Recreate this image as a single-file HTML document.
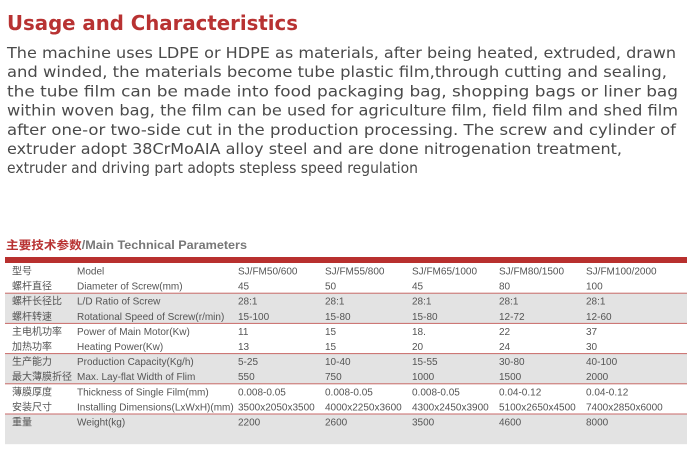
<!DOCTYPE html>
<html><head><meta charset="utf-8"><style>
html,body{margin:0;padding:0;background:#fff;width:688px;height:449px;overflow:hidden}
svg{display:block}
.p{font-family:"DejaVu Sans","Liberation Sans",sans-serif;font-size:15.5px;fill:#4a4a4a}
.t{font-family:"Liberation Sans","Noto Sans CJK SC",sans-serif;font-size:10px;fill:#555}
</style></head><body>
<svg id="s" width="688" height="449">
<text x="7" y="30" style="font-family:'DejaVu Sans','Liberation Sans',sans-serif;font-weight:bold;font-size:20px;fill:#b83232" textLength="291" lengthAdjust="spacingAndGlyphs">Usage and Characteristics</text>
<g id="para"></g>
<text x="6" y="249" textLength="241" lengthAdjust="spacingAndGlyphs" style="font-family:'Liberation Sans','Noto Sans CJK SC',sans-serif;font-weight:bold;font-size:11.5px"><tspan fill="#b83232">主要技术参数</tspan><tspan fill="#777">/Main Technical Parameters</tspan></text>
<rect x="5" y="257" width="682" height="6" fill="#b8302e"/>
<g id="tbl"></g>
</svg>
<script>
const lines=[
["The machine uses LDPE or HDPE as materials, after being heated, extruded, drawn",669],
["and winded, the materials become tube plastic film,through cutting and sealing,",660],
["the tube film can be made into food packaging bag, shopping bags or liner bag",671],
["within woven bag, the film can be used for agriculture film, field film and shed film",671],
["after one-or two-side cut in the production processing. The screw and cylinder of",669],
["extruder adopt 38CrMoAIA alloy steel and are done nitrogenation treatment,",615],
["extruder and driving part adopts stepless speed regulation",411]];
const zh=["型号","螺杆直径","螺杆长径比","螺杆转速","主电机功率","加热功率","生产能力","最大薄膜折径","薄膜厚度","安装尺寸","重量"];
const en=["Model","Diameter of Screw(mm)","L/D Ratio of Screw","Rotational Speed of Screw(r/min)","Power of Main Motor(Kw)","Heating Power(Kw)","Production Capacity(Kg/h)","Max. Lay-flat Width of Flim","Thickness of Single Film(mm)","Installing Dimensions(LxWxH)(mm)","Weight(kg)"];
const c1=["SJ/FM50/600","45","28:1","15-100","11","13","5-25","550","0.008-0.05","3500x2050x3500","2200"];
const c2=["SJ/FM55/800","50","28:1","15-80","15","15","10-40","750","0.008-0.05","4000x2250x3600","2600"];
const c3=["SJ/FM65/1000","45","28:1","15-80","18.","20","15-55","1000","0.008-0.05","4300x2450x3900","3500"];
const c4=["SJ/FM80/1500","80","28:1","12-72","22","24","30-80","1500","0.04-0.12","5100x2650x4500","4600"];
const c5=["SJ/FM100/2000","100","28:1","12-60","37","30","40-100","2000","0.04-0.12","7400x2850x6000","8000"];
const NS="http://www.w3.org/2000/svg";
const para=document.getElementById('para');
lines.forEach((l,i)=>{const t=document.createElementNS(NS,'text');


t.setAttribute('class','p');t.setAttribute('x',7);t.setAttribute('y',58+i*19.2);
t.setAttribute('textLength',l[1]);t.setAttribute('lengthAdjust','spacingAndGlyphs');t.textContent=l[0];para.appendChild(t);});
const tbl=document.getElementById('tbl');
const tblTop=263,rh=15.1;
[false,true,false,true,false,true].forEach((gray,i)=>{
 const y=tblTop+i*2*rh;
 if(gray){const r=document.createElementNS(NS,'rect');
 
 
 r.setAttribute('x',5);r.setAttribute('y',y);r.setAttribute('width',682);r.setAttribute('height',2*rh);r.setAttribute('fill','#e3e3e3');tbl.appendChild(r);}
 if(i>0){const ln=document.createElementNS(NS,'rect');
 
 
 ln.setAttribute('x',5);ln.setAttribute('y',y-0.5);ln.setAttribute('width',682);ln.setAttribute('height',1);ln.setAttribute('fill','#c86a68');tbl.appendChild(ln);}
});
const cols=[[zh,12],[en,77],[c1,238],[c2,325],[c3,412],[c4,499],[c5,586]];
for(let r=0;r<zh.length;r++){cols.forEach(c=>{const t=document.createElementNS(NS,'text');


t.setAttribute('class','t');t.setAttribute('x',c[1]);t.setAttribute('y',tblTop+r*rh+11.5);t.textContent=c[0][r];tbl.appendChild(t);});}
</script>
</body></html>
